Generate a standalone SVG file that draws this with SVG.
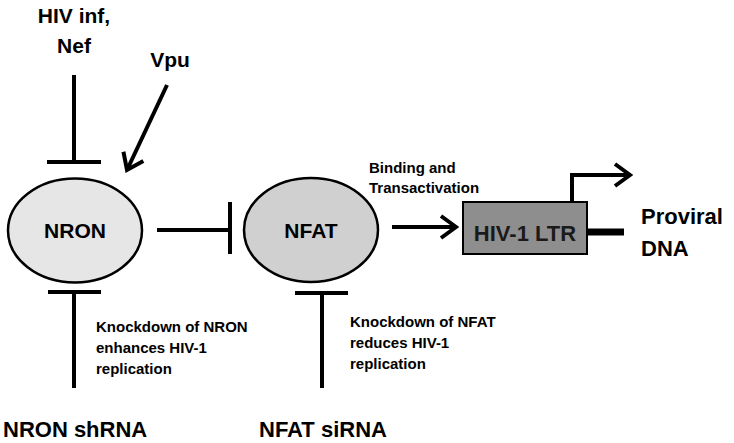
<svg xmlns="http://www.w3.org/2000/svg" width="734" height="443" viewBox="0 0 734 443">
<style>
text{font-family:"Liberation Sans",Arial,sans-serif;font-weight:bold;fill:#000}
.big{font-size:21px}
.lbl{font-size:22px}
.sm{font-size:15px}
.ln{stroke:#000;stroke-width:4;fill:none}
.node{stroke:#000;stroke-width:2.5}
</style>
<defs>
<marker id="ah" viewBox="0 0 20 26" refX="17" refY="13" markerWidth="20" markerHeight="26" markerUnits="userSpaceOnUse" orient="auto">
<path d="M2,2 L17,13 L2,24" fill="none" stroke="#000" stroke-width="4"/>
</marker>
</defs>
<rect width="734" height="443" fill="#fff"/>
<g id="connectors">
<line class="ln" x1="74" y1="75" x2="74" y2="162"/>
<line class="ln" x1="47" y1="162" x2="101" y2="162"/>
<line class="ln" x1="167" y1="85" x2="127" y2="170" marker-end="url(#ah)"/>
<line class="ln" x1="157" y1="230" x2="230" y2="230"/>
<line class="ln" x1="230" y1="202" x2="230" y2="254"/>
<line class="ln" x1="392" y1="227" x2="456" y2="227" marker-end="url(#ah)"/>
<polyline class="ln" points="572,202 572,175 630,175" marker-end="url(#ah)"/>
<line x1="587" y1="232" x2="624" y2="232" stroke="#000" stroke-width="7"/>
<line class="ln" x1="48" y1="292" x2="101" y2="292"/>
<line class="ln" x1="74" y1="292" x2="74" y2="388"/>
<line class="ln" x1="295" y1="293" x2="348" y2="293"/>
<line class="ln" x1="322" y1="293" x2="322" y2="388"/>
</g>
<g id="hiv-inf-nef">
<text class="big" x="74" y="23" text-anchor="middle">HIV inf,</text>
<text class="big" x="74" y="53" text-anchor="middle">Nef</text>
</g>
<g id="vpu">
<text class="big" x="170" y="67" text-anchor="middle">Vpu</text>
</g>
<g id="nron">
<ellipse class="node" cx="75" cy="230.5" rx="67" ry="52" fill="#e6e6e6"/>
<text class="big" x="75" y="238" text-anchor="middle">NRON</text>
</g>
<g id="nfat">
<ellipse class="node" cx="311" cy="230" rx="67" ry="52" fill="#d0d0d0"/>
<text class="big" x="311" y="238" text-anchor="middle">NFAT</text>
</g>
<g id="binding-label">
<text class="sm" x="369" y="173">Binding and</text>
<text class="sm" x="369" y="193">Transactivation</text>
</g>
<g id="hiv-ltr">
<rect x="463" y="202" width="124" height="52" fill="#8e8e8e" stroke="#000" stroke-width="2"/>
<text class="lbl" x="525" y="241" text-anchor="middle" style="fill:#1a1a1a">HIV-1 LTR</text>
</g>
<g id="proviral-dna">
<text class="lbl" x="641" y="224">Proviral</text>
<text class="lbl" x="641" y="256">DNA</text>
</g>
<g id="nron-knockdown">
<text class="sm" x="96" y="332">Knockdown of NRON</text>
<text class="sm" x="96" y="353">enhances HIV-1</text>
<text class="sm" x="96" y="374">replication</text>
</g>
<g id="nfat-knockdown">
<text class="sm" x="350" y="327">Knockdown of NFAT</text>
<text class="sm" x="350" y="348">reduces HIV-1</text>
<text class="sm" x="350" y="369">replication</text>
</g>
<g id="nron-shrna">
<text class="lbl" x="3" y="437">NRON shRNA</text>
</g>
<g id="nfat-sirna">
<text class="lbl" x="259" y="437">NFAT siRNA</text>
</g>
</svg>
